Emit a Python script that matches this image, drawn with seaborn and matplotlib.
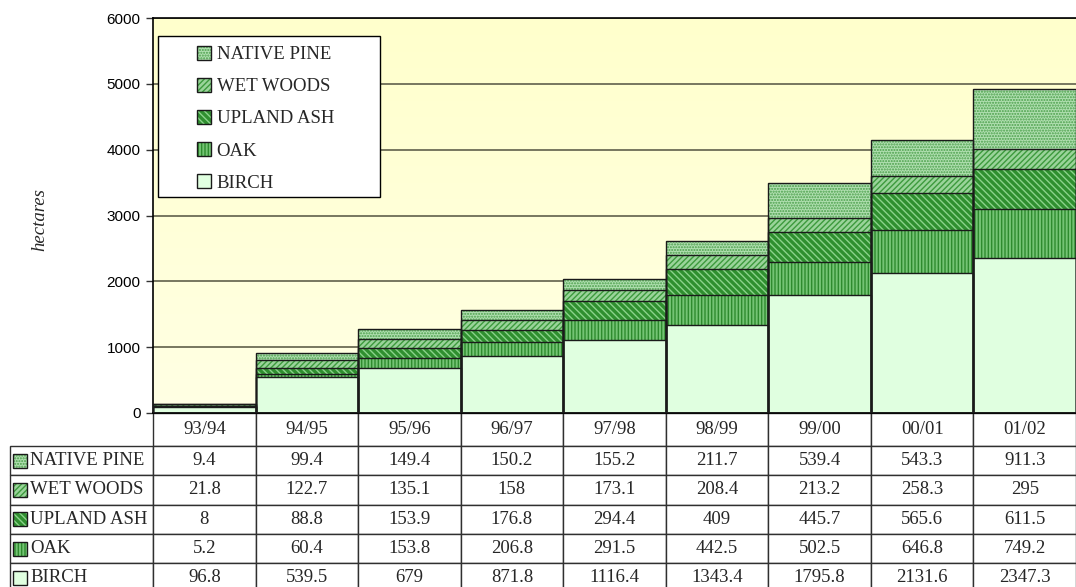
import numpy as np
import pandas as pd
import matplotlib
matplotlib.use("Agg")
import matplotlib.pyplot as plt
import seaborn as sns
from matplotlib.patches import Rectangle, Patch
from matplotlib.table import Table
from matplotlib.colors import LinearSegmentedColormap
from matplotlib.font_manager import FontProperties

years = ["93/94", "94/95", "95/96", "96/97", "97/98", "98/99", "99/00", "00/01", "01/02"]
birch = [96.8, 539.5, 679, 871.8, 1116.4, 1343.4, 1795.8, 2131.6, 2347.3]
oak = [5.2, 60.4, 153.8, 206.8, 291.5, 442.5, 502.5, 646.8, 749.2]
upland_ash = [8, 88.8, 153.9, 176.8, 294.4, 409, 445.7, 565.6, 611.5]
wet_woods = [21.8, 122.7, 135.1, 158, 173.1, 208.4, 213.2, 258.3, 295]
native_pine = [9.4, 99.4, 149.4, 150.2, 155.2, 211.7, 539.4, 543.3, 911.3]

# stacking order, bottom to top
series = ["BIRCH", "OAK", "UPLAND ASH", "WET WOODS", "NATIVE PINE"]
df = pd.DataFrame({"BIRCH": birch, "OAK": oak, "UPLAND ASH": upland_ash,
                   "WET WOODS": wet_woods, "NATIVE PINE": native_pine}, index=years)
cum = df[series].cumsum(axis=1)

# fill colour, hatch colour, hatch pattern
styles = {
    "BIRCH": ("#e0ffe0", "#e0ffe0", None),
    "OAK": ("#74c474", "#2e8b2e", "|||||"),
    "UPLAND ASH": ("#2f8f2f", "#8ad28a", "\\\\\\\\\\"),
    "WET WOODS": ("#9ad49a", "#3d9a3d", "//////"),
    "NATIVE PINE": ("#b0dfb0", "#4a9f4a", "......"),
}

sns.set_style("white")
plt.rcParams["font.family"] = ["Liberation Serif", "DejaVu Serif"]
plt.rcParams["hatch.linewidth"] = 1.0

W, H = 1076, 587
fig = plt.figure(figsize=(W / 100, H / 100), dpi=100)
ax_l, ax_r, ax_t, ax_b = 153, 1076, 18, 413
ax = fig.add_axes([ax_l / W, 1 - ax_b / H, (ax_r - ax_l) / W, (ax_b - ax_t) / H])
aw, ah = ax_r - ax_l, ax_b - ax_t

# yellow gradient background
cmap = LinearSegmentedColormap.from_list("bg", ["#ffffe4", "#ffffcc"])
ax.imshow(np.linspace(0, 1, 256).reshape(-1, 1), extent=[0, 1, 0, 1], transform=ax.transAxes,
          cmap=cmap, aspect="auto", origin="lower", zorder=0)

# tallest cumulative layer first, so lower layers paint over it
for name in reversed(series):
    fc, hc, hatch = styles[name]
    sns.barplot(x=years, y=cum[name].values, color=fc, saturation=1, width=1,
                edgecolor=hc, linewidth=0, hatch=hatch, errorbar=None, ax=ax, zorder=2)

for p in list(ax.patches):
    ax.add_patch(Rectangle(p.get_xy(), p.get_width(), p.get_height(), fill=False,
                           ec="#1a1a1a", lw=1, zorder=3))

ax.set_xlim(-0.5, len(years) - 0.5)
ax.set_ylim(0, 6000)
ax.set_yticks(range(0, 6001, 1000))
ax.set_axisbelow(True)
ax.yaxis.grid(True, color="#77775f", lw=1.4)
ax.xaxis.grid(False)
ax.tick_params(axis="x", bottom=False, labelbottom=False)
ax.tick_params(axis="y", left=True, length=5, width=1, color="#333333", pad=4,
               labelsize=11, labelfontfamily="Liberation Sans", labelcolor="black")
ax.set_xlabel("")
ax.set_ylabel("")
for s in ["left", "top", "bottom"]:
    ax.spines[s].set_visible(True)
    ax.spines[s].set_color("black")
    ax.spines[s].set_linewidth(1.2)
ax.spines["right"].set_visible(False)

fig.text(40 / W, 1 - 220 / H, "hectares", rotation=90, ha="center", va="center",
         style="italic", family="Liberation Serif", fontsize=13.5)

# legend
def handle(name):
    fc, hc, hatch = styles[name]
    return (Patch(facecolor=fc, edgecolor=hc, hatch=hatch, lw=0),
            Patch(fill=False, edgecolor="#1a1a1a", lw=1))

order = list(reversed(series))
ax.add_patch(Rectangle(((158 - ax_l) / aw, (ax_b - 197) / ah), 222 / aw, 161 / ah,
                       transform=ax.transAxes, fc="white", ec="black", lw=1, zorder=4))
ax.legend([handle(n) for n in order], order, loc="upper left",
          bbox_to_anchor=((197 - ax_l) / aw, (ax_b - 46) / ah), frameon=False,
          prop=FontProperties(family="Liberation Serif", size=13.5),
          handlelength=0.75, handleheight=0.75, handletextpad=0.3, labelspacing=0.78,
          borderpad=0, borderaxespad=0).set_zorder(5)

# data table under the axes (sizes in axes fractions)
col_w, lab_w = 1 / len(years), 143 / aw
head_h, row_h = 33 / ah, 29.3 / ah
tbl = Table(ax, loc="bottom")
for j, yr in enumerate(years):
    tbl.add_cell(0, j, width=col_w, height=head_h, text=yr, loc="center")
for i, name in enumerate(order):
    c = tbl.add_cell(i + 1, -1, width=lab_w, height=row_h, text=name, loc="left")
    c.PAD = 0.14
    for j, v in enumerate(df[name]):
        tbl.add_cell(i + 1, j, width=col_w, height=row_h, text=f"{v:g}", loc="center")
tbl.auto_set_font_size(False)
for cell in tbl.get_celld().values():
    cell.set_edgecolor("#303030")
    cell.set_linewidth(1)
    cell.set_facecolor("white")
    cell.get_text().set_fontsize(13.5)
    cell.get_text().set_fontfamily("Liberation Serif")
ax.add_table(tbl)
tbl.set_clip_on(False)

# swatches in the row label cells
for i, name in enumerate(order):
    yc = -(33 + 29.3 * i + 29.3 / 2)
    xy = ((13 - ax_l) / aw, (yc - 7) / ah)
    for h in handle(name):
        r = Rectangle(xy, 14 / aw, 14 / ah)
        r.update_from(h)
        r.set_transform(ax.transAxes)
        r.set_zorder(6)
        ax.add_patch(r)
        r.set_clip_on(False)

fig.savefig("out.png", dpi=100)
